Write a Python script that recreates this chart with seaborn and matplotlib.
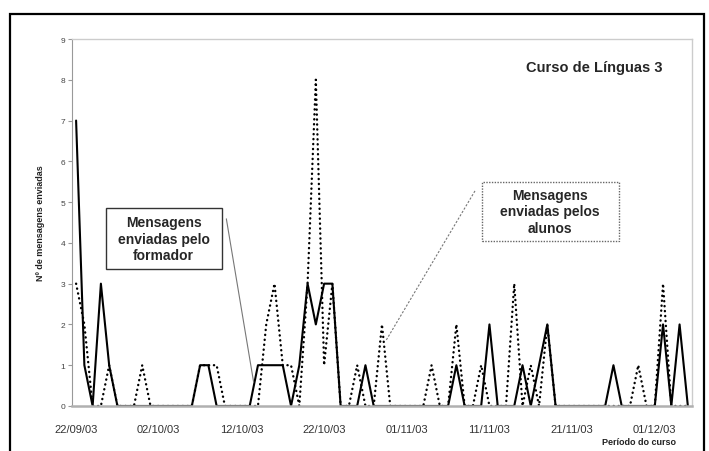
"""
Mensagens enviadas por dia - Curso de Línguas 3
"""
import pandas as pd
import seaborn as sns
import matplotlib.pyplot as plt
import matplotlib.dates as mdates
from matplotlib.patches import Rectangle

# daily counts from 22/09/03 to 05/12/03
start_date = "2003-09-22"
formador = [7, 1, 0, 3, 1, 0, 0, 0, 0, 0,
            0, 0, 0, 0, 0, 1, 1, 0, 0, 0,
            0, 0, 1, 1, 1, 1, 0, 1, 3, 2,
            3, 3, 0, 0, 0, 1, 0, 0, 0, 0,
            0, 0, 0, 0, 0, 0, 1, 0, 0, 0,
            2, 0, 0, 0, 1, 0, 1, 2, 0, 0,
            0, 0, 0, 0, 0, 1, 0, 0, 0, 0,
            0, 2, 0, 2, 0]
alunos = [3, 2, 0, 0, 1, 0, 0, 0, 1, 0,
          0, 0, 0, 0, 0, 1, 1, 1, 0, 0,
          0, 0, 0, 2, 3, 1, 1, 0, 3, 8,
          1, 3, 0, 0, 1, 0, 0, 2, 0, 0,
          0, 0, 0, 1, 0, 0, 2, 0, 0, 1,
          0, 0, 0, 3, 0, 1, 0, 2, 0, 0,
          0, 0, 0, 0, 0, 0, 0, 0, 1, 0,
          0, 3, 0, 0, 0]
y_ticks = list(range(0, 10))


def main() -> None:
    dates = pd.date_range(start_date, periods=len(formador), freq="D")
    data = pd.DataFrame({"data": dates, "formador": formador, "alunos": alunos})

    sns.set_style("white")
    plt.rcParams["font.family"] = ["Liberation Sans", "DejaVu Sans"]

    fig = plt.figure(figsize=(7.09, 4.52), dpi=100)
    ax = fig.add_axes([0.1015, 0.0996, 0.8745, 0.8119])

    sns.lineplot(data=data, x="data", y="alunos", ax=ax, color="black",
                 linestyle=(0, (0.1, 2.0)), linewidth=1.7, dash_capstyle="round")
    sns.lineplot(data=data, x="data", y="formador", ax=ax, color="black",
                 linewidth=1.5)

    half_day = pd.Timedelta(hours=12)
    ax.set_xlim(dates[0] - half_day, dates[-1] + half_day)
    ax.set_ylim(0, 9)
    ax.set_yticks(y_ticks)
    ax.set_xticks(dates[::10])
    ax.xaxis.set_major_formatter(mdates.DateFormatter("%d/%m/%y"))
    ax.tick_params(axis="x", labelsize=8, labelcolor="#333333", length=0, pad=13)
    ax.tick_params(axis="y", labelsize=6, labelcolor="#444444", length=3,
                   color="#999999", left=True, pad=2)

    for side in ["top", "right"]:
        ax.spines[side].set_color("#cccccc")
        ax.spines[side].set_linewidth(1.0)
    ax.spines["left"].set_color("#999999")
    ax.spines["bottom"].set_color("#b0b0b0")
    ax.spines["bottom"].set_linewidth(1.8)

    ax.set_xlabel("")
    ax.set_ylabel("Nº de mensagens enviadas", fontsize=6.5, fontweight="bold",
                  color="#222222", labelpad=11)
    fig.text(0.953, 0.022, "Período do curso", fontsize=6.5, fontweight="bold",
             color="#222222", ha="right", va="center")

    ax.text(0.843, 0.924, "Curso de Línguas 3", transform=ax.transAxes,
            fontsize=10.5, fontweight="bold", ha="center", va="center")

    # caixa do formador
    ax.add_patch(Rectangle((0.0547, 0.373), 0.1865, 0.166, transform=ax.transAxes,
                           fill=True, facecolor="white", edgecolor="#333333",
                           linewidth=1.0, zorder=4))
    ax.text(0.148, 0.456, "Mensagens\nenviadas pelo\nformador", transform=ax.transAxes,
            fontsize=10, fontweight="bold", ha="center", va="center",
            linespacing=1.25, zorder=5)
    ax.plot([0.249, 0.293], [0.510, 0.065], transform=ax.transAxes,
            color="#777777", linewidth=0.8, zorder=3)

    # caixa dos alunos
    ax.add_patch(Rectangle((0.661, 0.4496), 0.221, 0.161, transform=ax.transAxes,
                           fill=True, facecolor="white", edgecolor="#666666",
                           linewidth=1.0, linestyle=(0, (1, 1)), zorder=4))
    ax.text(0.7715, 0.530, "Mensagens\nenviadas pelos\nalunos", transform=ax.transAxes,
            fontsize=10, fontweight="bold", ha="center", va="center",
            linespacing=1.25, zorder=5)
    ax.plot([0.650, 0.506], [0.586, 0.177], transform=ax.transAxes,
            color="#777777", linewidth=0.8, linestyle=(0, (2, 1.5)), zorder=3)

    # moldura exterior
    fig.patches.append(Rectangle((0.0141, -0.05), 0.9788, 1.0168,
                                 transform=fig.transFigure, fill=False,
                                 edgecolor="black", linewidth=1.6))

    fig.savefig("out.png", dpi=100)


if __name__ == "__main__":
    main()
